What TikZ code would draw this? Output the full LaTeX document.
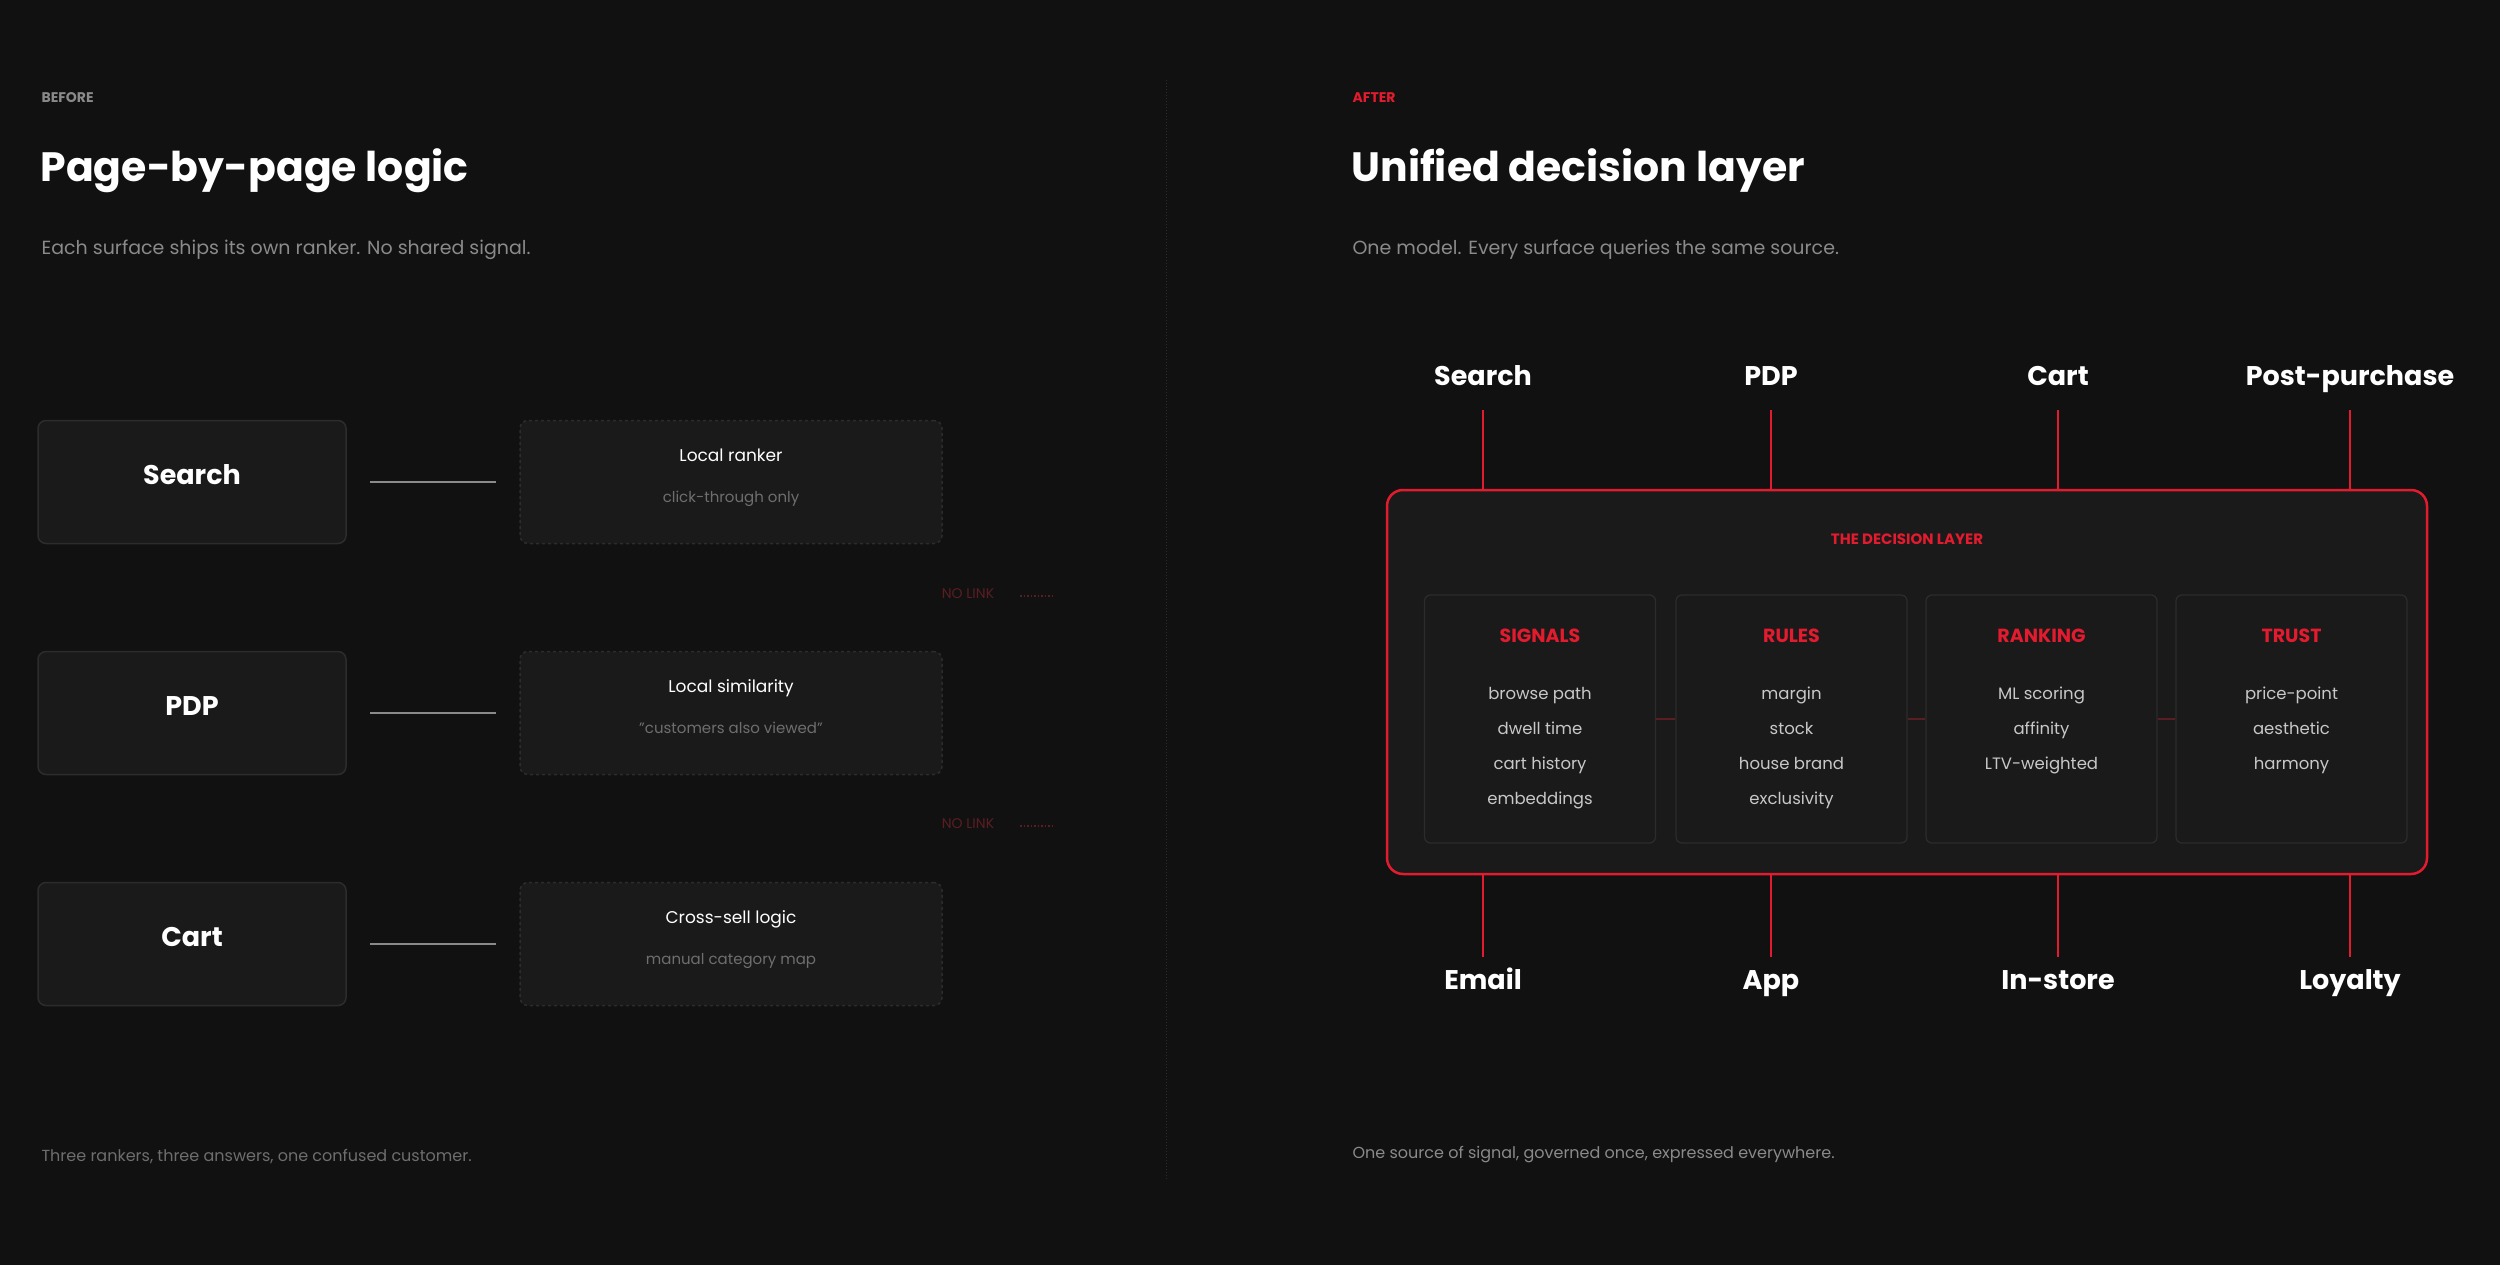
\documentclass[tikz,border=0pt]{standalone}
\usepackage{fontspec}
\setmainfont{Poppins}
\definecolor{bg}{HTML}{111111}
\definecolor{boxf}{HTML}{1A1A1A}
\definecolor{boxd}{HTML}{2C2C2C}
\definecolor{red}{HTML}{E31B2E}
\definecolor{dred}{HTML}{5A1E22}
\definecolor{gray1}{HTML}{8A8A8A}
\definecolor{gray2}{HTML}{6E6E6E}
\definecolor{txt}{HTML}{C8C8C8}
\tikzset{
 x=1pt,y=-1pt,
 fs/.style={font=\fontsize{#1}{#1}\selectfont,text height=0.55em,text depth=0em},
 fb/.style={font=\fontsize{#1}{#1}\selectfont\bfseries,text height=0.55em,text depth=0em},
 srcbox/.style={draw=boxd,fill=boxf,rounded corners=8pt,line width=1.5pt,minimum width=308pt,minimum height=123pt,text=white,fb=27},
 locbox/.style={draw=boxd,fill=boxf,rounded corners=8pt,dashed,line width=1.5pt,minimum width=422pt,minimum height=123pt},
 colbox/.style={draw=boxd,fill=boxf,rounded corners=6pt,line width=1.2pt,minimum width=231pt,minimum height=248pt},
 conn/.style={draw=gray1,line width=2pt},
 rline/.style={draw=red,line width=2pt},
 toplbl/.style={text=white,fb=27},
 hdr/.style={text=red,fb=19},
 item/.style={text=txt,fs=16.5},
}
\begin{document}
\begin{tikzpicture}
\fill[bg] (0,0) rectangle (2500,1265);
\useasboundingbox (0,0) rectangle (2500,1265);
\draw[boxd,dotted,line width=1pt] (1166,80) -- (1166,1180);
% left
\node[anchor=west,text=gray1,fb=14] (bef) at (38,100) {BEFORE};
\node[anchor=west,text=white,fb=41] (lt) at (37,179) {Page-by-page logic};
\node[anchor=west,text=gray1,fs=19] (ls) at (38,252) {Each surface ships its own ranker. No shared signal.};
\foreach \n/\t/\a/\b/\y in {s/Search/Local ranker/click-through only/482, p/PDP/Local similarity/"customers also viewed"/713, c/Cart/Cross-sell logic/manual category map/944}{
 \node[srcbox] (\n) at (192,\y) {\t};
 \node[locbox] (\n l) at (731,\y) {};
 \node[text=white,fs=17] (\n a) at (731,\y-23) {\a};
 \node[text=gray2,fs=15] (\n b) at (731,\y+18) {\b};
 \coordinate (\n1) at (370,\y); \coordinate (\n2) at (496,\y);
 \draw[conn] (\n1) -- (\n2);
}
\foreach \y/\k in {596/1,826/2}{
 \node[text=dred,fs=14] (nl\k) at (968,\y) {NO LINK};
 \coordinate (d\k a) at (1020,\y); \coordinate (d\k b) at (1055,\y);
 \draw[dred,dotted,line width=1.5pt] (d\k a) -- (d\k b);
}
\node[anchor=west,text=gray2,fs=16] (lf) at (38,1159) {Three rankers, three answers, one confused customer.};
% right
\node[anchor=west,text=red,fb=14] (aft) at (1349,100) {AFTER};
\node[anchor=west,text=white,fb=41] (rt) at (1348,179) {Unified decision layer};
\node[anchor=west,text=gray1,fs=19] (rs) at (1349,252) {One model. Every surface queries the same source.};
\draw[red,fill=boxf,line width=2.5pt,rounded corners=16pt] (1387,490) rectangle (2427,874);
\node[text=red,fb=15] (dl) at (1907,542) {THE DECISION LAYER};
\foreach \x/\t/\b in {1483/Search/Email,1771/PDP/App,2058/Cart/In-store,2350/Post-purchase/Loyalty}{
 \node[toplbl] (t\t) at (\x,383) {\t};
 \coordinate (ta\t) at (\x,410); \coordinate (tb\t) at (\x,490);
 \draw[rline] (ta\t) -- (tb\t);
 \node[toplbl] (b\b) at (\x,987) {\b};
 \coordinate (ba\b) at (\x,874); \coordinate (bb\b) at (\x,957);
 \draw[rline] (ba\b) -- (bb\b);
}
\node[colbox] (c1) at (1540,719) {};
\node[colbox] (c2) at (1791.5,719) {};
\node[colbox] (c3) at (2041.5,719) {};
\node[colbox] (c4) at (2291.5,719) {};
\draw[dred,line width=1.5pt] (c1.east) -- (c2.west);
\draw[dred,line width=1.5pt] (c2.east) -- (c3.west);
\draw[dred,line width=1.5pt] (c3.east) -- (c4.west);
\node[hdr] at (1540,640) {SIGNALS};
\node[hdr] at (1791.5,640) {RULES};
\node[hdr] at (2041.5,640) {RANKING};
\node[hdr] at (2291.5,640) {TRUST};
\foreach \x/\a/\b/\c/\d in {1540/browse path/dwell time/cart history/embeddings, 1791.5/margin/stock/house brand/exclusivity}{
 \node[item] at (\x,697) {\a}; \node[item] at (\x,732) {\b};
 \node[item] at (\x,767) {\c}; \node[item] at (\x,802) {\d};
}
\foreach \x/\a/\b/\c in {2041.5/ML scoring/affinity/LTV-weighted, 2291.5/price-point/aesthetic/harmony}{
 \node[item] at (\x,697) {\a}; \node[item] at (\x,732) {\b};
 \node[item] at (\x,767) {\c};
}
\node[anchor=west,text=gray1,fs=16] (rf) at (1349,1156) {One source of signal, governed once, expressed everywhere.};
\end{tikzpicture}
\end{document}
